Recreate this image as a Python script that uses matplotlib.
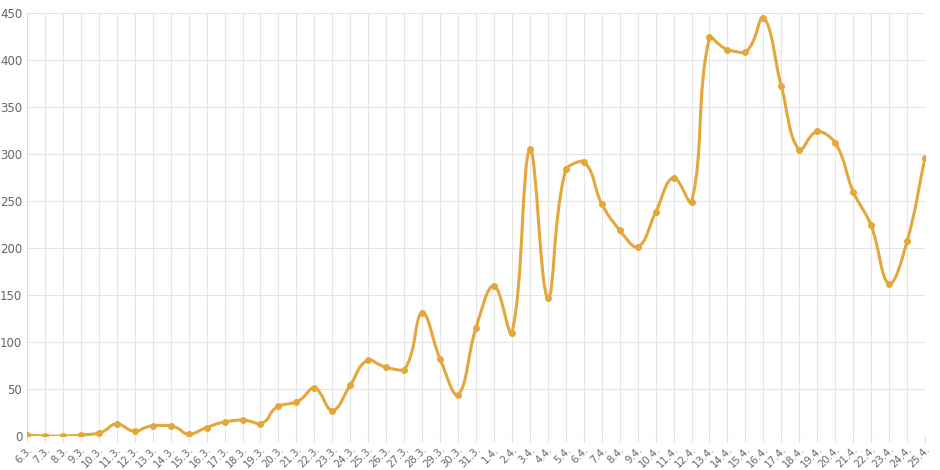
import matplotlib
matplotlib.use("Agg")
import matplotlib.pyplot as plt
from matplotlib.path import Path
from matplotlib.patches import PathPatch
import numpy as np

labels = [f"{d}.3." for d in range(6, 32)] + [f"{d}.4." for d in range(1, 26)]
values = [1, 0, 0, 1, 3, 13, 5, 11, 11, 2, 9, 15, 17, 13, 32, 36, 51, 27, 54, 81,
          73, 70, 131, 82, 44, 115, 160, 110, 305, 147, 284, 292, 247, 219, 201,
          238, 275, 249, 424, 411, 408, 445, 372, 304, 324, 312, 260, 224, 162, 207, 296]
color = "#E3A73C"

fig = plt.figure(figsize=(9.4, 4.7), dpi=100)
ax = fig.add_axes([27/940, 34/470, 898/940, 423/470])
x = np.arange(len(values), dtype=float)
y = np.array(values, dtype=float)

t = 0.4
verts = [(x[0], y[0])]
codes = [Path.MOVETO]
n = len(x)
def ctrl(i):
    p = np.array([x[max(i-1,0)], y[max(i-1,0)]])
    c = np.array([x[i], y[i]])
    nx = np.array([x[min(i+1,n-1)], y[min(i+1,n-1)]])
    d01 = np.linalg.norm(c-p); d12 = np.linalg.norm(nx-c)
    s = d01+d12
    fa = t*d01/s if s else 0; fb = t*d12/s if s else 0
    return c - fa*(nx-p), c + fb*(nx-p)
cps = [ctrl(i) for i in range(n)]
for i in range(n-1):
    verts += [tuple(cps[i][1]), tuple(cps[i+1][0]), (x[i+1], y[i+1])]
    codes += [Path.CURVE4]*3
ax.add_patch(PathPatch(Path(verts, codes), fill=False, edgecolor=color, lw=2.2, zorder=3))
ax.plot(x, y, 'o', color=color, ms=4, zorder=4)

ax.set_xlim(0, n-1)
ax.set_ylim(0, 450)
ax.set_yticks(range(0, 451, 50))
ax.set_xticks(x)
ax.set_xticklabels(labels, rotation=45, ha='right', rotation_mode='anchor', fontsize=7.3, color='#666')
ax.tick_params(axis='y', labelsize=8.5, colors='#666', length=0)
ax.tick_params(axis='x', length=4, color='#ddd', pad=2)
ax.grid(True, color='#e5e5e5', lw=0.8)
for s in ax.spines.values():
    s.set_visible(False)
ax.axhline(0, color='#bbb', lw=0.8)
ax.axvline(0, color='#ddd', lw=0.8)
fig.savefig("out.png")
